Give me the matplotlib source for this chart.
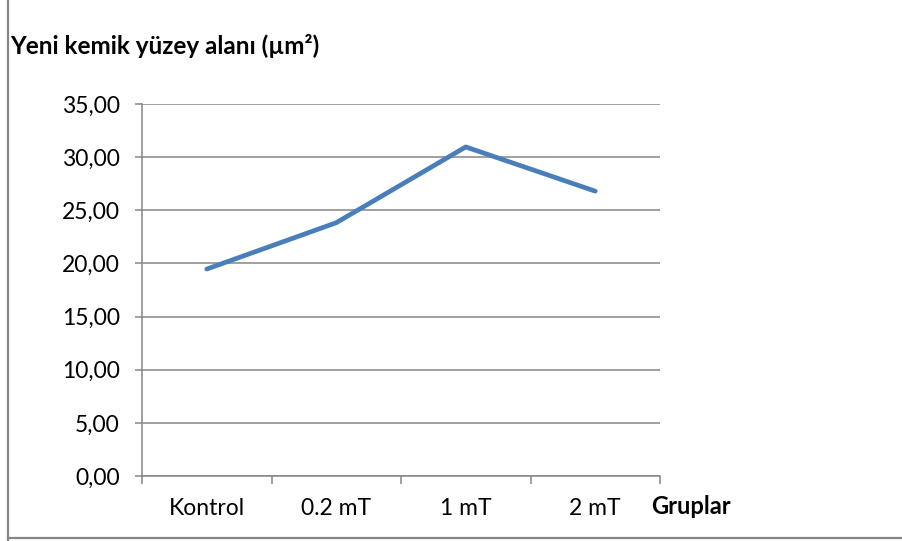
import matplotlib.pyplot as plt
from matplotlib.lines import Line2D

groups = ["Kontrol", "0.2 mT", "1 mT", "2 mT"]
area = [19.47, 23.83, 30.96, 26.80]
yticks = [0, 5, 10, 15, 20, 25, 30, 35]

plt.rcParams['font.family'] = ['Lato', 'DejaVu Sans']
grey = '#868686'

fig = plt.figure(figsize=(9.02, 5.41), dpi=100)
ax = fig.add_axes([142 / 902, 65 / 541, 518 / 902, 372 / 541])

x = list(range(len(groups)))
ax.plot(x, area, color='#4A7EBB', lw=3.4, solid_capstyle='round', solid_joinstyle='round', zorder=3)

ax.set_xlim(-0.5, len(groups) - 0.5)
ax.set_ylim(0, 35)
ax.set_yticks(yticks)
ax.set_yticklabels([f"{v:.2f}".replace('.', ',') for v in yticks])
ax.yaxis.grid(True, color=grey, lw=1.1)
ax.set_axisbelow(True)

# category boundaries get the tick marks, labels sit in the middle
ax.set_xticks([i - 0.5 for i in range(len(groups) + 1)])
ax.set_xticklabels([])
ax.set_xticks(x, minor=True)
ax.set_xticklabels(groups, minor=True)
ax.tick_params(axis='x', which='major', length=6, color=grey, width=1.1)
ax.tick_params(axis='x', which='minor', length=0, pad=16, labelsize=16.5)
ax.tick_params(axis='y', length=5, color=grey, width=1.1, labelsize=16.5, pad=11)

for side in ['top', 'right']:
    ax.spines[side].set_visible(False)
for side in ['left', 'bottom']:
    ax.spines[side].set_color(grey)
    ax.spines[side].set_linewidth(1.1)

fig.text(10 / 902, 1 - 46 / 541, "Yeni kemik yüzey alanı (µm²)", fontsize=17.5,
         fontweight='bold', va='center', ha='left')
fig.text(651 / 902, 1 - 507 / 541, "Gruplar", fontsize=17,
         fontweight='bold', va='center', ha='left')

# outer chart frame
fig.add_artist(Line2D([8 / 902, 8 / 902], [0, 1], color=grey, lw=1.6, transform=fig.transFigure))
fig.add_artist(Line2D([8 / 902, 1], [3 / 541, 3 / 541], color=grey, lw=1.6, transform=fig.transFigure))

fig.savefig('out.png', dpi=100)
